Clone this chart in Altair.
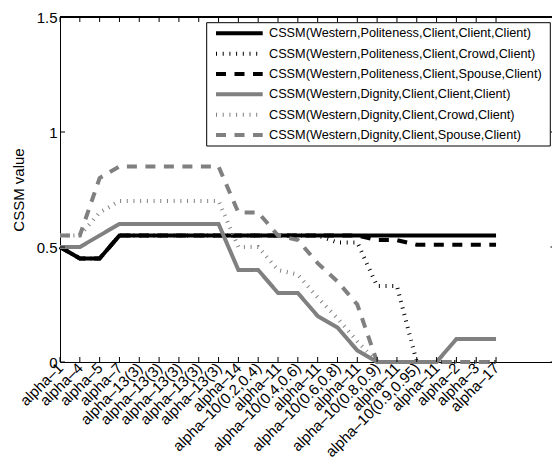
import altair as alt
import pandas as pd

# x-axis categories (one per parameter setting)
labels = ["alpha–1", "alpha–4", "alpha–5", "alpha–7",
          "alpha–13(3)", "alpha–13(3)", "alpha–13(3)", "alpha–13(3)", "alpha–13(3)",
          "alpha–14", "alpha–10(0.2,0.4)", "alpha–11", "alpha–10(0.4,0.6)", "alpha–11",
          "alpha–10(0.6,0.8)", "alpha–11", "alpha–10(0.8,0.9)", "alpha–11",
          "alpha–10(0.9,0.95)", "alpha–11", "alpha–2", "alpha–3", "alpha–17"]

series_names = [
    "CSSM(Western,Politeness,Client,Client,Client)",
    "CSSM(Western,Politeness,Client,Crowd,Client)",
    "CSSM(Western,Politeness,Client,Spouse,Client)",
    "CSSM(Western,Dignity,Client,Client,Client)",
    "CSSM(Western,Dignity,Client,Crowd,Client)",
    "CSSM(Western,Dignity,Client,Spouse,Client)",
]

pol_client = [0.5, 0.45, 0.45, 0.55, 0.55, 0.55, 0.55, 0.55, 0.55, 0.55, 0.55, 0.55,
              0.55, 0.55, 0.55, 0.55, 0.55, 0.55, 0.55, 0.55, 0.55, 0.55, 0.55]
pol_crowd = [0.5, 0.45, 0.45, 0.55, 0.55, 0.55, 0.55, 0.55, 0.55, 0.55, 0.55, 0.55,
             0.55, 0.55, 0.52, 0.52, 0.33, 0.33, 0.0, 0.0, 0.0, 0.0, 0.0]
pol_spouse = [0.5, 0.45, 0.45, 0.55, 0.55, 0.55, 0.55, 0.55, 0.55, 0.55, 0.55, 0.55,
              0.55, 0.55, 0.55, 0.55, 0.53, 0.53, 0.51, 0.51, 0.51, 0.51, 0.51]
dig_client = [0.5, 0.5, 0.55, 0.6, 0.6, 0.6, 0.6, 0.6, 0.6, 0.4, 0.4, 0.3,
              0.3, 0.2, 0.15, 0.05, 0.0, 0.0, 0.0, 0.0, 0.1, 0.1, 0.1]
dig_crowd = [0.55, 0.55, 0.65, 0.7, 0.7, 0.7, 0.7, 0.7, 0.7, 0.5, 0.5, 0.4,
             0.38, 0.28, 0.19, 0.09, 0.0, 0.0, 0.0, 0.0, 0.0, 0.0, 0.0]
dig_spouse = [0.55, 0.55, 0.8, 0.85, 0.85, 0.85, 0.85, 0.85, 0.85, 0.65, 0.65, 0.55,
              0.53, 0.43, 0.35, 0.25, 0.0, 0.0, 0.0, 0.0, 0.0, 0.0, 0.0]

series_values = [pol_client, pol_crowd, pol_spouse, dig_client, dig_crowd, dig_spouse]
y_ticks = [0, 0.5, 1, 1.5]

GRAY = "#808080"
colors = ["black", "black", "black", GRAY, GRAY, GRAY]
dashes = [[1, 0], [1, 5.7], [10, 8.5], [1, 0], [1, 5.7], [10, 8.5]]

FONT = "Liberation Sans"
W, H = 492, 345           # visible plot area
X_MAX = 25                # x axis runs a little past the right edge
X_SPAN = 19.82 * X_MAX    # pixel length of the x axis

rows = []
for order, (name, vals) in enumerate(zip(series_names, series_values)):
    for i, v in enumerate(vals):
        rows.append({"series": name, "order": order, "i": i, "v": v})
df = pd.DataFrame(rows)

xscale = alt.Scale(domain=[0, X_MAX], range=[0, X_SPAN], nice=False, zero=False)
yscale = alt.Scale(domain=[0, 1.5], nice=False)

label_expr = "[" + ",".join('"%s"' % s for s in labels) + "][datum.value]"

x_axis = alt.Axis(values=list(range(len(labels))), labelExpr=label_expr,
                  labelAngle=-45, labelAlign="right", labelBaseline="middle",
                  labelPadding=3, labelFontSize=15, labelFont=FONT,
                  labelColor="black", labelOverlap=False, labelBound=False,
                  labelFlush=False, tickSize=0, domainColor="black",
                  grid=False, title=None)
y_axis = alt.Axis(values=y_ticks, format="~g", tickSize=0, labelPadding=3,
                  labelFontSize=15, labelFont=FONT, labelColor="black",
                  domainColor="black", grid=False, title="CSSM value",
                  titleFont=FONT, titleFontSize=15, titleFontWeight="normal",
                  titleColor="black", titleX=-42, titleY=H / 2,
                  titleBaseline="middle")

lines = alt.Chart(df).mark_line(strokeWidth=4, strokeCap="butt", strokeJoin="miter").encode(
    x=alt.X("i:Q", scale=xscale, axis=x_axis),
    y=alt.Y("v:Q", scale=yscale, axis=y_axis),
    color=alt.Color("series:N", scale=alt.Scale(domain=series_names, range=colors), legend=None),
    strokeDash=alt.StrokeDash("series:N", scale=alt.Scale(domain=series_names, range=dashes),
                              legend=None),
    order=alt.Order("order:Q"),
    detail="series:N",
)

# inward tick marks on all four sides of the box
xt = pd.DataFrame({"i": list(range(len(labels)))})
yt = pd.DataFrame({"v": y_ticks})
tx = alt.X("i:Q", scale=xscale, axis=x_axis)
ty = alt.Y("v:Q", scale=yscale, axis=y_axis)
bottom_ticks = alt.Chart(xt).mark_rule(color="black", strokeWidth=1).encode(
    x=tx, y=alt.value(H), y2=alt.value(H - 5))
top_ticks = alt.Chart(xt).mark_rule(color="black", strokeWidth=1).encode(
    x=tx, y=alt.value(0), y2=alt.value(5))
left_ticks = alt.Chart(yt).mark_rule(color="black", strokeWidth=1).encode(
    y=ty, x=alt.value(0), x2=alt.value(5))
right_ticks = alt.Chart(yt).mark_rule(color="black", strokeWidth=1).encode(
    y=ty, x=alt.value(X_SPAN), x2=alt.value(X_SPAN - 5))
top_border = alt.Chart(xt).mark_rule(color="black", strokeWidth=1).encode(
    x=alt.value(0), x2=alt.value(X_SPAN), y=alt.value(0))

# legend box with one line sample and label per series
one = pd.DataFrame({"k": [0]})
legend_layers = [
    alt.Chart(one).mark_rect(fill="white", stroke="black", strokeWidth=1).encode(
        x=alt.value(146.7), x2=alt.value(490.3), y=alt.value(5.7), y2=alt.value(129))
]
for k, name in enumerate(series_names):
    ly = 16.3 + 20.35 * k
    legend_layers.append(
        alt.Chart(one).mark_rule(color=colors[k], strokeWidth=4, strokeDash=dashes[k],
                                 strokeCap="butt").encode(
            x=alt.value(156), x2=alt.value(202.7), y=alt.value(ly)))
    legend_layers.append(
        alt.Chart(one).mark_text(text=name, align="left", baseline="middle",
                                 font=FONT, fontSize=12.7, color="black").encode(
            x=alt.value(209), y=alt.value(ly)))

chart = alt.layer(
    lines, bottom_ticks, top_ticks, left_ticks, right_ticks, top_border, *legend_layers
).properties(
    width=W, height=H,
    autosize=alt.AutoSizeParams(type="none"),
    padding={"left": 60, "top": 17, "right": 0, "bottom": 100},
    background="white",
).configure_view(stroke=None)

chart.save("out.html", embed_options={"renderer": "svg", "actions": False})
